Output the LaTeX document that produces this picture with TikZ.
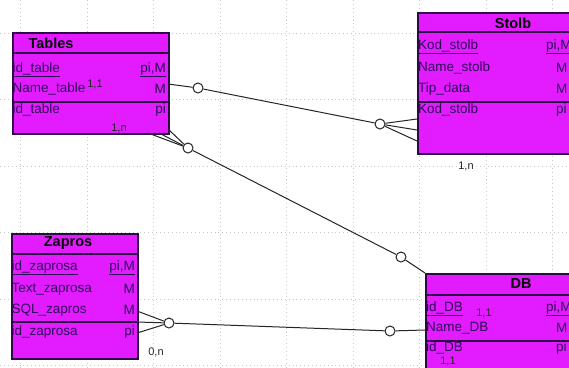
\documentclass[tikz,border=0pt]{standalone}
\usepackage{fontspec}
\setmainfont{Liberation Sans}
\definecolor{entfill}{RGB}{226,28,255}
\definecolor{entline}{RGB}{45,10,70}
\definecolor{enttext}{RGB}{45,10,85}
\definecolor{gridc}{RGB}{200,200,200}
\begin{document}
\begin{tikzpicture}[x=1pt,y=-1pt,
  ent/.style={draw=entline, line width=1.6pt, fill=entfill, anchor=north west, inner sep=0pt},
  sepline/.style={draw=entline, line width=1.6pt},
  attr/.style={anchor=west, inner sep=0pt, text=enttext, font=\fontsize{13.5}{14}\selectfont},
  attrR/.style={anchor=east, inner sep=0pt, text=enttext, font=\fontsize{13.5}{14}\selectfont},
  ttl/.style={inner sep=0pt, text=black, font=\fontsize{14.5}{15}\selectfont\bfseries},
  card/.style={inner sep=0pt, text=black!85, font=\fontsize{11}{12}\selectfont},
  conn/.style={draw=black!85, line width=1pt},
  ring/.style={circle, draw=black!85, line width=1pt, fill=white, minimum size=10pt, inner sep=0pt},
  gridl/.style={draw=gridc, line width=0.9pt, dash pattern=on 0.9pt off 3pt}
]
\useasboundingbox (0,0) rectangle (569,367);
\clip (0,0) rectangle (569,367);
\fill[white] (0,0) rectangle (569,367);
% grid
\foreach \gx in {20.5,87,153.5,220,286.5,353,419.5,486,552.5}
  \draw[gridl] (\gx,0) -- (\gx,367);
\foreach \gy in {33,99.5,166,232.5,299,365.5}
  \draw[gridl] (0,\gy) -- (569,\gy);

% ---------- Tables ----------
\node[ent, minimum width=156pt, minimum height=101pt] (tables) at (12,32) {};
\draw[sepline] (12,53) -- (168,53);
\draw[sepline] (12,102) -- (168,102);
\node[ttl] (tablesT) at (51,43) {Tables};
\node[attr] (ta1) at (12.5,70) {\underline{id\_table}};
\node[attr] (ta2) at (12.5,89) {Name\_table};
\node[attr] (ta3) at (12.5,110) {id\_table};
\node[attrR] (tr1) at (166,70) {\underline{pi,M}};
\node[attrR] (tr2) at (166,89) {M};
\node[attrR] (tr3) at (166,110) {pi};

% ---------- Stolb ----------
\node[ent, minimum width=170pt, minimum height=141pt] (stolb) at (417,12) {};
\draw[sepline] (417,32) -- (587,32);
\draw[sepline] (417,102) -- (587,102);
\node[ttl] (stolbT) at (513,23) {Stolb};
\node[attr] (sa1) at (418,47) {\underline{Kod\_stolb}};
\node[attr] (sa2) at (418,68) {Name\_stolb};
\node[attr] (sa3) at (418,89) {Tip\_data};
\node[attr] (sa4) at (418,110) {Kod\_stolb};
\node[attr] (sr1) at (546,47) {\underline{pi,M}};
\node[attr] (sr2) at (556,68) {M};
\node[attr] (sr3) at (556,89) {M};
\node[attr] (sr4) at (556,110) {pi};

% ---------- Zapros ----------
\node[ent, minimum width=126pt, minimum height=125pt] (zapros) at (11,233) {};
\draw[sepline] (11,254) -- (137,254);
\draw[sepline] (11,322) -- (137,322);
\node[ttl] (zaprosT) at (68,243) {Zapros};
\node[attr] (za1) at (11.5,268) {\underline{id\_zaprosa}};
\node[attr] (za2) at (11.5,289) {Text\_zaprosa};
\node[attr] (za3) at (11.5,310) {SQL\_zapros};
\node[attr] (za4) at (11.5,332) {id\_zaprosa};
\node[attrR] (zr1) at (135,268) {\underline{pi,M}};
\node[attrR] (zr2) at (135,289) {M};
\node[attrR] (zr3) at (135,310) {M};
\node[attrR] (zr4) at (135,332) {pi};

% ---------- DB ----------
\node[ent, minimum width=170pt, minimum height=110pt] (db) at (425,273) {};
\draw[sepline] (425,295) -- (595,295);
\draw[sepline] (425,341) -- (595,341);
\node[ttl] (dbT) at (521,284) {DB};
\node[attr] (da1) at (426,309) {\underline{id\_DB}};
\node[attr] (da2) at (426,328) {Name\_DB};
\node[attr] (da3) at (426,348) {id\_DB};
\node[attr] (dr1) at (546,309) {\underline{pi,M}};
\node[attr] (dr2) at (556,328) {M};
\node[attr] (dr3) at (556,348) {pi};

% ---------- cardinalities ----------
\node[card] (c11a) at (95,84) {1,1};
\node[card] (c1na) at (119,128) {1,n};
\node[card] (c1nb) at (466,166) {1,n};
\node[card] (c0n) at (156,352) {0,n};
\node[card] (c11b) at (484,313) {1,1};
\node[card] (c11c) at (448,361.5) {1,1};

% ---------- connectors ----------
% Tables -- Stolb
\coordinate (tE) at (168,84);
\node[ring] (r1) at (198,88) {};
\node[ring] (r2) at (380,124) {};
\coordinate (s1) at (417,119);
\coordinate (s2) at (417,130);
\coordinate (s3) at (417,141);
\draw[conn] (tE) -- (r1);
\draw[conn] (r1) -- (r2);
\draw[conn] (r2) -- (s1);
\draw[conn] (r2) -- (s2);
\draw[conn] (r2) -- (s3);

% Tables -- DB
\coordinate (tb1) at (148,133);
\coordinate (tb2) at (159,133);
\coordinate (tb3) at (168,129);
\node[ring] (r3) at (188,148) {};
\node[ring] (r4) at (401,257) {};
\coordinate (dbC) at (425,273);
\draw[conn] (r3) -- (tb1);
\draw[conn] (r3) -- (tb2);
\draw[conn] (r3) -- (tb3);
\draw[conn] (r3) -- (r4);
\draw[conn] (r4) -- (dbC);

% Zapros -- DB
\coordinate (z1) at (137,311);
\coordinate (z2) at (137,322);
\coordinate (z3) at (137,333);
\node[ring] (r5) at (169,323) {};
\node[ring] (r6) at (390,331) {};
\coordinate (dbW) at (425,330);
\draw[conn] (r5) -- (z1);
\draw[conn] (r5) -- (z2);
\draw[conn] (r5) -- (z3);
\draw[conn] (r5) -- (r6);
\draw[conn] (r6) -- (dbW);
\end{tikzpicture}
\end{document}
